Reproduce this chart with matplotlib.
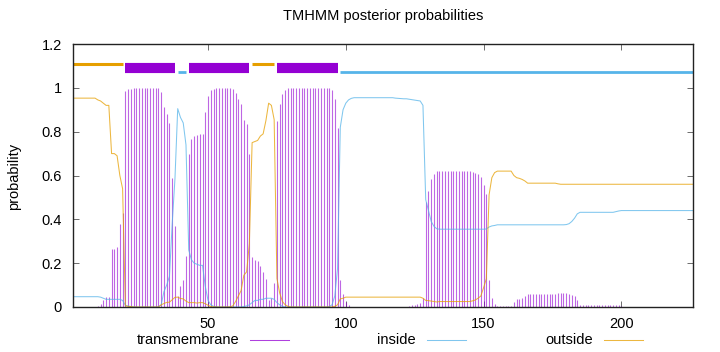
import numpy as np
import matplotlib.pyplot as plt
from matplotlib.lines import Line2D

plt.rcParams['font.family'] = ['Liberation Sans', 'DejaVu Sans']

# posterior probabilities per residue (1..226)
tm = [0, 0, 0, 0, 0, 0, 0, 0, 0, 0.005,
      0.015, 0.03, 0.045, 0.045, 0.265, 0.265, 0.275, 0.38, 0.43, 0.987,
      0.993, 0.996, 0.999, 1, 1, 1, 1, 1, 1, 1,
      1, 0.999, 0.98, 0.914, 0.879, 0.838, 0.587, 0.371, 0.05, 0.096,
      0.123, 0.233, 0.698, 0.765, 0.78, 0.787, 0.79, 0.79, 0.89, 0.962,
      0.988, 0.996, 0.999, 1, 1, 1, 1, 0.999, 0.995, 0.975,
      0.95, 0.925, 0.853, 0.835, 0.70, 0.23, 0.215, 0.21, 0.185, 0.16,
      0.13, 0.03, 0.04, 0.11, 0.849, 0.926, 0.972, 0.99, 0.997, 1,
      1, 1, 1, 1, 1, 1, 1, 1, 1, 1,
      1, 1, 1, 0.998, 0.99, 0.947, 0.815, 0.123, 0.06, 0.025,
      0.01, 0, 0, 0, 0, 0, 0, 0, 0, 0,
      0, 0, 0, 0, 0, 0, 0, 0, 0, 0,
      0, 0, 0.005, 0.008, 0.01, 0.012, 0.02, 0.04, 0.48, 0.531,
      0.583, 0.607, 0.62, 0.62, 0.62, 0.62, 0.62, 0.62, 0.62, 0.62,
      0.62, 0.62, 0.62, 0.62, 0.62, 0.617, 0.613, 0.605, 0.595, 0.557,
      0.515, 0.123, 0.04, 0.015, 0.005, 0.005, 0.005, 0.005, 0.005, 0.005,
      0.025, 0.035, 0.038, 0.043, 0.05, 0.06, 0.06, 0.06, 0.06, 0.06,
      0.06, 0.06, 0.06, 0.06, 0.06, 0.06, 0.063, 0.065, 0.066, 0.064,
      0.06, 0.055, 0.05, 0.03, 0.01, 0.008, 0.008, 0.008, 0.008, 0.008,
      0.008, 0.008, 0.008, 0.008, 0.008, 0.008, 0.008, 0.008, 0.008, 0.006,
      0, 0, 0, 0, 0, 0, 0, 0, 0, 0,
      0, 0, 0, 0, 0, 0, 0, 0, 0, 0,
      0, 0, 0, 0, 0, 0]

inside = [0.047, 0.047, 0.047, 0.047, 0.047, 0.047, 0.047, 0.047, 0.047, 0.047,
          0.045, 0.04, 0.035, 0.035, 0.035, 0.035, 0.035, 0.035, 0.03, 0.008,
          0.004, 0.002, 0.001, 0, 0, 0, 0, 0, 0, 0,
          0, 0.001, 0.01, 0.07, 0.1, 0.14, 0.38, 0.585, 0.905, 0.865,
          0.84, 0.74, 0.26, 0.215, 0.2, 0.195, 0.19, 0.19, 0.095, 0.03,
          0.01, 0.003, 0.001, 0, 0, 0, 0, 0, 0, 0,
          0, 0, 0.002, 0.005, 0.01, 0.02, 0.03, 0.03, 0.035, 0.035,
          0.04, 0.04, 0.04, 0.035, 0.02, 0.01, 0.003, 0, 0, 0,
          0, 0, 0, 0, 0, 0, 0, 0, 0, 0,
          0, 0, 0, 0.002, 0.01, 0.05, 0.175, 0.82, 0.9, 0.93,
          0.945, 0.952, 0.955, 0.955, 0.955, 0.955, 0.955, 0.955, 0.955, 0.955,
          0.955, 0.955, 0.955, 0.955, 0.955, 0.955, 0.955, 0.953, 0.952, 0.951,
          0.95, 0.95, 0.948, 0.946, 0.944, 0.942, 0.94, 0.92, 0.49, 0.44,
          0.39, 0.368, 0.357, 0.355, 0.355, 0.355, 0.355, 0.355, 0.355, 0.355,
          0.355, 0.355, 0.355, 0.355, 0.355, 0.355, 0.355, 0.355, 0.355, 0.355,
          0.356, 0.365, 0.37, 0.372, 0.375, 0.375, 0.375, 0.375, 0.375, 0.375,
          0.375, 0.375, 0.375, 0.375, 0.375, 0.375, 0.375, 0.375, 0.375, 0.375,
          0.375, 0.375, 0.375, 0.375, 0.375, 0.375, 0.375, 0.375, 0.375, 0.376,
          0.38, 0.39, 0.405, 0.425, 0.432, 0.432, 0.432, 0.432, 0.432, 0.432,
          0.432, 0.432, 0.432, 0.432, 0.432, 0.432, 0.432, 0.435, 0.438, 0.44,
          0.44, 0.44, 0.44, 0.44, 0.44, 0.44, 0.44, 0.44, 0.44, 0.44,
          0.44, 0.44, 0.44, 0.44, 0.44, 0.44, 0.44, 0.44, 0.44, 0.44,
          0.44, 0.44, 0.44, 0.44, 0.44, 0.44]

outside = [0.953, 0.953, 0.953, 0.953, 0.953, 0.953, 0.953, 0.953, 0.953, 0.945,
           0.94, 0.93, 0.92, 0.92, 0.70, 0.70, 0.69, 0.60, 0.54, 0.005,
           0.003, 0.002, 0, 0, 0, 0, 0, 0, 0, 0,
           0, 0, 0.01, 0.016, 0.021, 0.022, 0.033, 0.044, 0.045, 0.039,
           0.037, 0.027, 0.02, 0.02, 0.02, 0.018, 0.02, 0.02, 0.015, 0.008,
           0.002, 0.001, 0, 0, 0, 0, 0, 0.001, 0.005, 0.025,
           0.05, 0.075, 0.145, 0.16, 0.29, 0.75, 0.755, 0.76, 0.78, 0.79,
           0.85, 0.93, 0.92, 0.855, 0.13, 0.064, 0.025, 0.01, 0.003, 0,
           0, 0, 0, 0, 0, 0, 0, 0, 0, 0,
           0, 0, 0, 0, 0, 0.003, 0.01, 0.037, 0.04, 0.045,
           0.045, 0.045, 0.045, 0.045, 0.045, 0.045, 0.045, 0.045, 0.045, 0.045,
           0.045, 0.045, 0.045, 0.045, 0.045, 0.045, 0.045, 0.045, 0.045, 0.045,
           0.045, 0.045, 0.045, 0.045, 0.045, 0.045, 0.045, 0.04, 0.03, 0.029,
           0.027, 0.025, 0.023, 0.025, 0.025, 0.025, 0.025, 0.025, 0.025, 0.025,
           0.025, 0.025, 0.025, 0.025, 0.025, 0.028, 0.032, 0.04, 0.05, 0.088,
           0.129, 0.512, 0.59, 0.613, 0.62, 0.62, 0.62, 0.62, 0.62, 0.62,
           0.60, 0.59, 0.587, 0.582, 0.575, 0.565, 0.565, 0.565, 0.565, 0.565,
           0.565, 0.565, 0.565, 0.565, 0.565, 0.565, 0.562, 0.56, 0.56, 0.56,
           0.56, 0.56, 0.56, 0.56, 0.56, 0.56, 0.56, 0.56, 0.56, 0.56,
           0.56, 0.56, 0.56, 0.56, 0.56, 0.56, 0.56, 0.56, 0.56, 0.56,
           0.56, 0.56, 0.56, 0.56, 0.56, 0.56, 0.56, 0.56, 0.56, 0.56,
           0.56, 0.56, 0.56, 0.56, 0.56, 0.56, 0.56, 0.56, 0.56, 0.56,
           0.56, 0.56, 0.56, 0.56, 0.56, 0.56]

residues = np.arange(1, len(tm) + 1)

# predicted topology segments drawn above the curves
topo_start = [1, 20, 39, 43, 66, 75, 98]
topo_end = [19, 38, 42, 65, 74, 97, 226]
topo_kind = ['outside', 'TM', 'inside', 'TM', 'outside', 'TM', 'inside']

x_ticks = [50, 100, 150, 200]
y_ticks = [0, 0.2, 0.4, 0.6, 0.8, 1.0, 1.2]
y_labels = ['0', '0.2', '0.4', '0.6', '0.8', '1', '1.2']

purple = '#9400d3'
blue = '#56b4e9'
orange = '#e69f00'
colors = {'TM': purple, 'inside': blue, 'outside': orange}
level = {'outside': 1.11, 'TM': 1.09, 'inside': 1.07}
width = {'outside': 2.2, 'TM': 7.3, 'inside': 2.0}

fig = plt.figure(figsize=(7.2, 3.52), dpi=100)
ax = fig.add_axes([73/720, 45/352, 620/720, 263/352])

ax.vlines(residues, 0, tm, color=purple, lw=0.8, alpha=0.6)
ax.plot(residues, inside, color=blue, lw=0.75, alpha=0.75)
ax.plot(residues, outside, color=orange, lw=0.75, alpha=0.75)

for s, e, k in zip(topo_start, topo_end, topo_kind):
    ax.plot([s, e], [level[k], level[k]], color=colors[k], lw=width[k],
            solid_capstyle='butt')

ax.set_xlim(1, 226)
ax.set_ylim(0, 1.2)
ax.set_xticks(x_ticks)
ax.set_yticks(y_ticks)
ax.set_yticklabels(y_labels)
ax.tick_params(direction='in', top=True, right=True, length=4, width=0.6,
               labelsize=10.5, color='#555555')
ax.tick_params(axis='x', pad=7)
ax.tick_params(axis='y', pad=8)
for sp in ax.spines.values():
    sp.set_linewidth(1.0)
    sp.set_color('#222222')

fig.text(383/720, 1 - 16/352, 'TMHMM posterior probabilities',
         ha='center', va='center', fontsize=10.5)
fig.text(14/720, 1 - 176/352, 'probability', rotation=90,
         ha='center', va='center', fontsize=10.5)

# gnuplot-style key: label first, then line sample
legend_labels = ['transmembrane', 'inside', 'outside']
legend_colors = [purple, blue, orange]
legend_text_end = [239, 416, 593]
ly = 1 - 340/352
for lab, c, xe in zip(legend_labels, legend_colors, legend_text_end):
    fig.text(xe/720, ly, lab, ha='right', va='center', fontsize=10.5)
    fig.add_artist(Line2D([(xe + 11)/720, (xe + 50)/720], [ly, ly],
                          color=c, lw=0.75, alpha=0.75))

fig.savefig('out.png', dpi=100)
